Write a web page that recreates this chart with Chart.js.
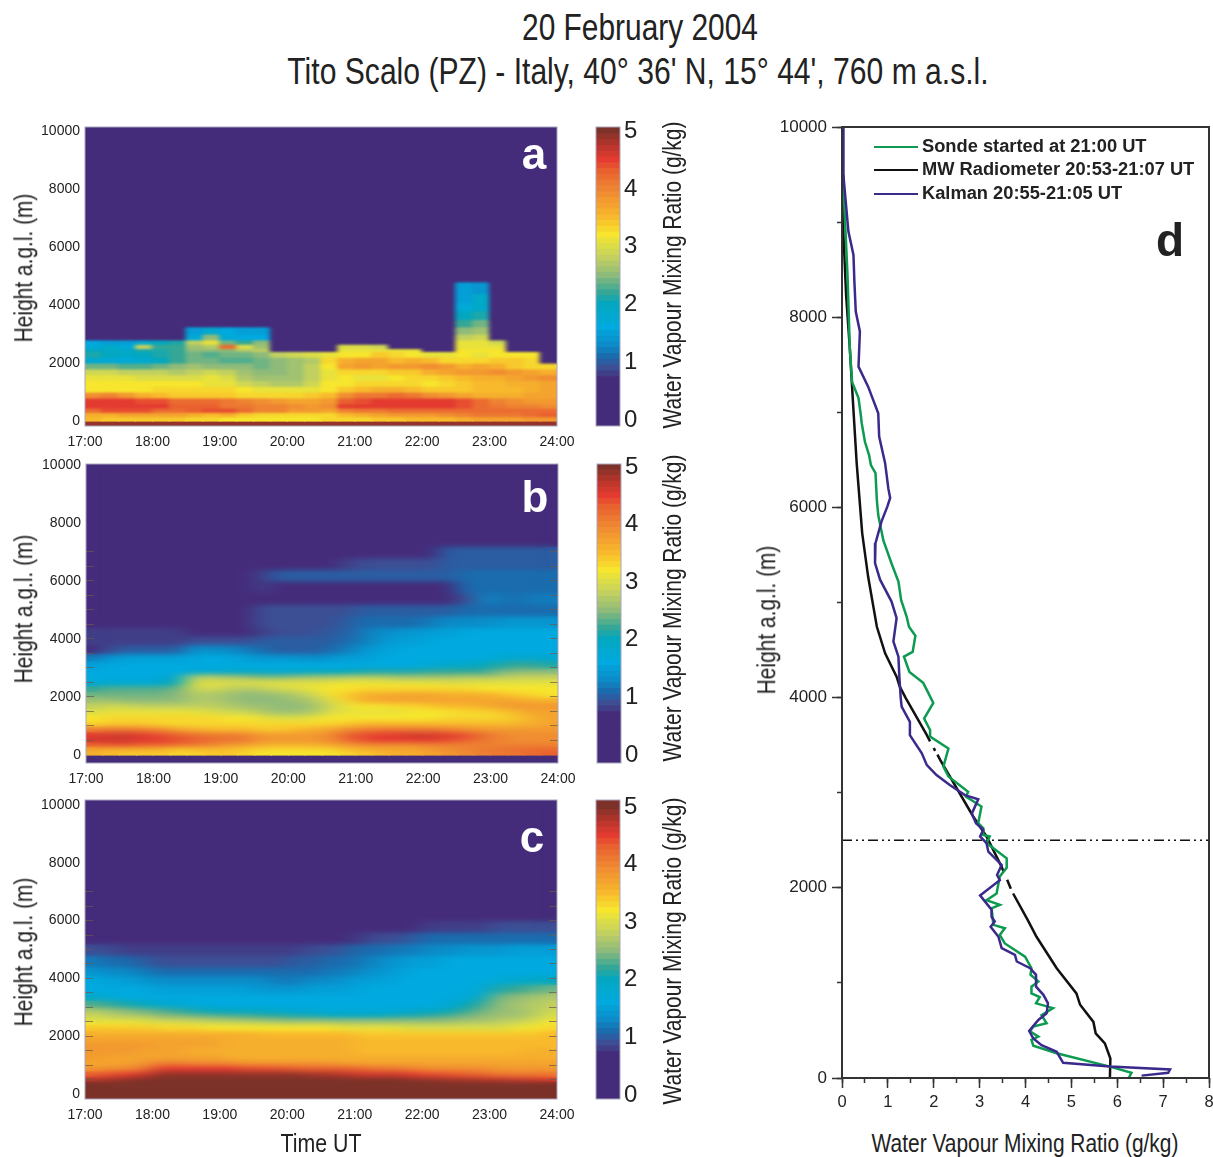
<!DOCTYPE html>
<html>
<head>
<meta charset="utf-8">
<title>Water vapour mixing ratio, 20 February 2004</title>
<script src="https://cdn.jsdelivr.net/npm/chart.js@4"></script>
<style>
html, body { margin: 0; padding: 0; background: #fff; overflow: hidden; }
#page { position: relative; width: 1213px; height: 1157px; overflow: hidden; font-family: 'Liberation Sans', Arial, sans-serif; color: #222; }
canvas { position: absolute; display: block; }
.txt { position: absolute; white-space: nowrap; line-height: 1; }
.letter { font-weight: bold; }
#legend { position: absolute; left: 874px; top: 134px; font: bold 18.3px 'Liberation Sans', Arial, sans-serif; color: #222; }
#legend div { height: 23.3px; line-height: 23px; white-space: nowrap; }
#legend span { display: inline-block; width: 44px; height: 0; border-top: 2px solid; vertical-align: middle; margin-right: 4px; }
</style>
</head>
<body>
<div id="page"><div id="legend"></div></div>
<script>
// time cell centres (hours UT), 15 minute cells
const timeCols = [17.125,17.375,17.625,17.875,18.125,18.375,18.625,18.875,19.125,19.375,19.625,19.875,20.125,20.375,20.625,20.875,21.125,21.375,21.625,21.875,22.125,22.375,22.625,22.875,23.125,23.375,23.625,23.875];
// row limits in metres, top to bottom
const heightEdges = [10400,7200,6800,6400,6000,5600,5200,4800,4400,4100,3800,3500,3250,3000,2800,2650,2500,2400,2200,2000,1800,1600,1400,1200,1000,800,600,450,300,150,0,-300];
const heightTicks = [0,2000,4000,6000,8000,10000];
const insideTicks = [500,1000,1500,2000,2500,3000,3500,4000,4500,5000,5500,6000,6500,7000];
const scaleTicks = [0,1,2,3,4,5];
const barLevels = [-0.1,0,0.1,0.2,0.3,0.4,0.5,0.6,0.7,0.8,0.9,1,1.1,1.2,1.3,1.4,1.5,1.6,1.7,1.8,1.9,2,2.1,2.2,2.3,2.4,2.5,2.6,2.7,2.8,2.9,3,3.1,3.2,3.3,3.4,3.5,3.6,3.7,3.8,3.9,4,4.1,4.2,4.3,4.4,4.5,4.6,4.7,4.8,4.9,5,5.1];

// mixing ratio x10, one line per height row, top row first
const panelA = [
[3,3,3,3,3,3, 3,3,3,3,3, 3,3,3,3, 3,3,3,3,3,3,3, 3,3,3,3,3, 3],
[3,3,3,3,3,3, 3,3,3,3,3, 3,3,3,3, 3,3,3,3,3,3,3, 3,3,3,3,3, 3],
[3,3,3,3,3,3, 3,3,3,3,3, 3,3,3,3, 3,3,3,3,3,3,3, 3,3,3,3,3, 3],
[3,3,3,3,3,3, 3,3,3,3,3, 3,3,3,3, 3,3,3,3,3,3,3, 3,3,3,3,3, 3],
[3,3,3,3,3,3, 3,3,3,3,3, 3,3,3,3, 3,3,3,3,3,3,3, 3,3,3,3,3, 3],
[3,3,3,3,3,3, 3,3,3,3,3, 3,3,3,3, 3,3,3,3,3,3,3, 3,3,3,3,3, 3],
[3,3,3,3,3,3, 3,3,3,3,3, 3,3,3,3, 3,3,3,3,3,3,3, 3,3,3,3,3, 3],
[3,3,3,3,3,3, 3,3,3,3,3, 3,3,3,3, 3,3,3,3,3,3,3, 15,14,3,3,3, 3],
[3,3,3,3,3,3, 3,3,3,3,3, 3,3,3,3, 3,3,3,3,3,3,3, 15,19,3,3,3, 3],
[3,3,3,3,3,3, 3,3,3,3,3, 3,3,3,3, 3,3,3,3,3,3,3, 17,19,3,3,3, 3],
[3,3,3,3,3,3, 3,3,3,3,3, 3,3,3,3, 3,3,3,3,3,3,3, 20,21,3,3,3, 3],
[3,3,3,3,3,3, 3,3,3,3,3, 3,3,3,3, 3,3,3,3,3,3,3, 22,24,3,3,3, 3],
[3,3,3,3,3,3, 15,18,16,15,15, 3,3,3,3, 3,3,3,3,3,3,3, 25,26,3,3,3, 3],
[3,3,3,3,3,3, 17,25,17,16,16, 3,3,3,3, 3,3,3,3,3,3,3, 28,29,3,3,3, 3],
[16,15,15,18,20,21, 28,31,24,22,25, 3,3,3,3, 3,3,3,3,3,3,3, 31,31,29,3,3, 3],
[17,19,17,28,22,22, 26,27,42,30,26, 3,3,3,3, 30,30,29,3,3,3,3, 31,31,31,3,3, 3],
[20,19,19,21,21,22, 25,25,25,27,28, 3,3,3,3, 31,31,31,31,31,3,3, 32,32,32,3,3, 3],
[21,20,19,20,21,22, 24,23,24,24,25, 28,29,30,31, 32,32,34,33,32,31,31, 32,31,32,32,32, 3],
[18,17,17,18,20,22, 24,24,23,23,24, 25,26,27,33, 36,37,37,35,36,35,33, 33,33,34,34,33, 3],
[24,24,23,23,24,25, 26,25,25,25,24, 25,26,28,32, 37,38,37,38,38,39,38, 36,37,36,34,33, 33],
[29,29,28,28,28,27, 28,29,28,26,25, 25,26,28,31, 33,33,33,34,34,36,37, 38,38,39,38,37, 36],
[31,31,31,30,30,30, 30,31,30,27,26, 26,26,28,31, 32,31,31,32,33,33,34, 35,36,36,37,38, 39],
[32,32,32,32,32,32, 32,31,31,29,28, 27,27,29,32, 32,33,33,33,33,32,33, 34,35,35,36,36, 37],
[32,32,32,32,33,33, 33,33,33,32,31, 31,31,31,32, 34,35,36,36,35,34,34, 34,35,35,35,36, 37],
[39,40,38,36,35,34, 34,34,34,33,33, 33,33,34,35, 39,41,41,42,41,39,38, 37,36,36,36,37, 37],
[45,45,45,44,44,42, 42,42,41,40,39, 38,37,37,38, 43,44,45,45,45,45,45, 44,42,40,39,38, 38],
[45,45,45,45,45,43, 43,43,41,41,40, 40,39,38,39, 45,45,45,45,45,45,45, 44,42,41,40,40, 39],
[42,44,44,44,42,42, 43,44,44,42,40, 40,38,38,37, 40,41,41,42,42,42,42, 42,42,42,42,42, 42],
[36,36,37,37,37,37, 36,35,36,34,33, 33,33,33,33, 35,36,37,38,38,38,39, 40,41,41,41,42, 43],
[35,34,34,34,34,34, 33,33,32,32,32, 32,32,32,33, 33,33,34,34,35,35,35, 36,37,37,37,38, 38],
[49,49,49,49,49,49, 49,49,49,49,49, 49,49,49,49, 49,49,49,49,49,49,49, 49,49,49,49,49, 49]
];

const panelB = [
[3,3,3,3,3,3, 3,3,3,3, 3,3,3,3,3, 3,3,3,3,3,3, 3,3,3,3,3,3,3],
[3,3,3,3,3,3, 3,3,3,3, 3,3,3,3,3, 3,3,3,3,3,3, 10,10,10,10,10,10,10],
[3,3,3,3,3,3, 3,3,3,3, 3,3,3,3,3, 8,9,9,9,9,9, 10,10,10,10,10,10,10],
[3,3,3,3,3,3, 3,3,3,3, 8,10,10,10,10, 10,10,10,10,10,10, 10,11,11,11,11,11,11],
[3,3,3,3,3,3, 3,3,3,3, 8,7,7,7,7, 7,7,7,7,7,7, 7,11,11,11,11,11,11],
[3,3,3,3,3,3, 3,3,3,3, 3,3,3,3,3, 3,3,3,3,3,3, 3,9,12,12,11,12,12],
[3,3,3,3,3,3, 3,3,3,3, 9,9,9,9,9, 9,10,10,10,10,10, 10,11,11,11,11,11,11],
[7,7,7,7,7,7, 3,3,3,3, 9,9,9,9,9, 10,11,11,11,11,12, 13,13,13,14,14,14,14],
[8,8,8,8,8,8, 5,5,5,5, 8,9,9,9,10, 10,12,13,14,14,15, 15,16,16,16,16,16,16],
[8,8,8,8,8,8, 9,9,9,9, 10,10,10,10,10, 11,12,14,15,15,16, 16,16,16,16,16,16,16],
[7,9,10,10,10,10, 14,13,13,12, 11,10,10,10,11, 12,14,15,16,16,16, 16,16,16,16,16,16,16],
[12,14,15,15,15,15, 16,16,16,15, 14,14,14,13,14, 15,15,16,16,16,16, 16,16,16,17,18,18,18],
[15,16,16,16,16,16, 16,16,16,16, 16,16,16,16,16, 16,16,16,16,16,17, 18,19,20,21,22,22,21],
[16,16,16,16,16,16, 17,18,18,19, 18,18,18,19,20, 20,21,21,21,21,22, 22,22,22,24,25,25,25],
[16,16,16,16,16,19, 28,27,26,25, 24,24,25,26,26, 27,27,27,26,26,26, 26,27,26,27,28,28,28],
[17,17,17,17,18,20, 29,29,29,29, 29,29,29,29,29, 30,30,30,29,29,29, 29,29,30,30,30,30,30],
[18,19,18,18,19,21, 31,31,30,30, 30,31,31,31,32, 32,32,32,32,32,32, 31,31,31,31,31,31,31],
[22,23,23,23,23,24, 29,29,28,27, 28,29,30,31,32, 32,33,33,33,33,33, 33,33,32,32,32,32,32],
[24,24,24,24,24,25, 27,27,26,25, 25,26,27,29,32, 34,36,36,37,37,37, 36,36,36,35,34,33,32],
[26,26,25,25,25,25, 27,27,26,25, 25,25,26,27,30, 33,36,37,37,37,37, 37,37,37,37,37,36,36],
[28,29,29,28,28,28, 28,28,27,26, 26,25,25,26,29, 31,32,32,33,33,34, 35,35,36,37,38,38,38],
[30,31,31,31,31,31, 31,30,29,29, 27,26,26,27,30, 31,31,31,31,32,32, 32,33,33,34,35,37,37],
[32,33,33,33,33,33, 33,33,32,32, 31,30,30,31,32, 32,32,32,32,32,32, 33,33,33,33,34,36,37],
[33,34,34,34,33,33, 33,33,33,33, 33,33,33,33,33, 34,35,35,35,35,35, 35,35,35,35,35,36,37],
[40,41,41,40,39,37, 36,35,35,35, 34,34,35,36,37, 39,40,41,41,41,41, 40,39,38,38,38,38,38],
[45,46,46,45,44,43, 42,41,41,40, 38,38,38,38,39, 43,44,45,45,46,46, 45,44,42,40,39,39,39],
[46,46,46,45,45,44, 43,42,41,41, 38,38,38,38,39, 42,44,45,45,45,45, 44,43,41,40,39,39,39],
[43,44,44,43,43,42, 41,40,38,38, 36,36,36,36,37, 38,39,39,39,39,40, 40,40,40,40,40,40,40],
[37,36,36,36,36,34, 35,35,35,34, 33,33,33,33,33, 35,36,37,37,37,38, 39,40,41,41,42,42,42],
[36,35,34,34,34,33, 33,34,34,33, 32,32,32,32,32, 33,34,35,36,36,37, 38,39,40,41,41,42,43],
[3,3,3,3,3,3, 3,3,3,3, 3,3,3,3,3, 3,3,3,3,3,3, 3,3,3,3,3,3,3]
];

const panelC = [
[3,3,3,3, 3,3,3,3,3,3,3,3, 3,3,3,3, 3,3,3,3, 3,3,3,3, 3,3,3,3],
[3,3,3,3, 3,3,3,3,3,3,3,3, 3,3,3,3, 3,3,3,3, 3,3,3,3, 3,3,3,3],
[3,3,3,3, 3,3,3,3,3,3,3,3, 3,3,3,3, 3,3,3,3, 3,3,3,3, 3,3,3,3],
[3,3,3,3, 3,3,3,3,3,3,3,3, 3,3,3,3, 3,3,3,3, 3,3,3,3, 3,3,3,3],
[3,3,3,3, 3,3,3,3,3,3,3,3, 3,3,3,3, 3,4,5,7, 8,8,8,8, 9,9,9,9],
[7,6,5,5, 5,5,5,5,5,5,5,5, 6,6,7,7, 8,9,9,10, 11,11,11,11, 11,11,11,11],
[9,9,8,8, 8,8,8,8,8,8,8,8, 8,9,9,10, 11,11,12,12, 13,13,14,14, 14,15,15,15],
[12,11,11,10, 9,9,9,9,9,9,9,9, 10,10,11,11, 12,13,14,15, 15,16,16,16, 16,16,16,16],
[14,13,13,12, 11,11,11,11,11,11,11,11, 11,11,12,12, 13,14,15,16, 16,16,16,16, 16,16,16,16],
[16,15,15,14, 13,13,13,13,13,13,13,12, 12,13,13,14, 15,15,16,16, 16,16,16,16, 17,18,19,20],
[16,16,16,16, 15,15,15,15,15,15,14,14, 14,15,15,15, 16,16,16,16, 16,16,16,17, 21,22,23,24],
[19,17,16,16, 16,16,16,16,16,16,16,16, 16,16,16,16, 16,16,16,16, 16,16,17,19, 24,25,26,27],
[23,22,21,20, 18,17,17,16,16,16,16,16, 16,16,16,16, 16,16,16,16, 16,17,20,22, 25,26,27,28],
[27,26,25,24, 23,22,21,20,20,19,19,18, 18,17,17,17, 17,17,17,18, 19,20,22,24, 25,26,27,29],
[29,28,27,27, 25,25,24,24,23,23,22,22, 21,21,20,20, 20,20,21,21, 22,23,24,25, 26,26,27,30],
[30,30,30,30, 28,28,28,27,27,26,26,25, 25,25,25,25, 25,25,25,25, 25,25,26,26, 27,28,29,31],
[32,32,32,31, 31,31,30,30,29,29,29,28, 28,28,28,27, 27,27,27,27, 27,27,28,28, 28,29,30,32],
[34,34,34,34, 33,33,33,32,32,32,32,32, 32,32,32,31, 31,31,31,30, 30,30,30,30, 30,31,32,33],
[36,36,36,36, 36,36,36,36,36,36,35,35, 35,35,35,35, 34,34,34,34, 34,34,34,34, 34,34,34,35],
[37,37,37,37, 37,37,37,37,36,36,36,36, 36,36,36,36, 35,35,35,35, 35,35,35,35, 35,35,35,35],
[38,38,38,38, 37,37,37,37,36,36,36,36, 36,36,36,36, 35,35,35,35, 35,35,35,35, 35,35,35,35],
[38,38,38,37, 37,37,36,36,36,36,36,36, 36,36,36,36, 35,35,35,35, 35,35,35,35, 35,35,36,36],
[38,37,37,37, 37,37,37,37,36,36,36,36, 36,36,36,36, 36,36,36,36, 36,36,36,36, 36,36,36,36],
[37,37,37,38, 40,40,39,39,39,38,38,38, 38,38,38,37, 37,37,37,37, 37,37,37,37, 37,37,37,37],
[38,39,39,41, 45,45,45,45,45,44,44,44, 43,43,43,43, 42,41,41,40, 39,39,39,39, 38,38,38,38],
[43,44,45,46, 49,49,49,49,49,49,49,49, 49,48,48,47, 46,46,46,45, 44,44,43,43, 41,41,41,41],
[47,48,49,50, 50,50,50,50,50,50,50,50, 50,50,50,50, 50,50,50,49, 49,48,48,47, 47,46,46,45],
[50,50,50,50, 50,50,50,50,50,50,50,50, 50,50,50,50, 50,50,50,50, 50,50,50,50, 50,50,50,50],
[50,50,50,50, 50,50,50,50,50,50,50,50, 50,50,50,50, 50,50,50,50, 50,50,50,50, 50,50,50,50],
[50,50,50,50, 50,50,50,50,50,50,50,50, 50,50,50,50, 50,50,50,50, 50,50,50,50, 50,50,50,50],
[50,50,50,50, 50,50,50,50,50,50,50,50, 50,50,50,50, 50,50,50,50, 50,50,50,50, 50,50,50,50]
];

// profiles of panel d, null makes a break in the line
const sondeMix = [0.03,0.05,0.12,0.17,0.22,0.36,0.41,0.43,0.50,0.59,0.63,0.73,0.76,0.79,0.90,1.08,1.23,1.29,1.41,1.46,1.60,1.54,1.35,1.47,1.77,1.87,1.99,1.79,1.92,1.92,2.32,2.21,2.32,2.75,2.70,3.04,2.97,3.08,3.08,3.22,3.15,3.59,3.59,3.44,3.37,3.15,3.44,3.26,3.30,3.55,3.44,3.55,3.99,4.13,4.11,4.28,4.13,4.13,4.31,4.23,4.60,4.35,4.46,4.17,4.10,4.28,4.13,4.17,4.68,5.84,6.31,6.25];
const sondeHeight = [9500,9180,8445,7675,7320,7150,6970,6885,6690,6550,6445,6360,6075,5920,5655,5410,5220,5025,4850,4745,4650,4480,4430,4270,4155,4060,3945,3780,3660,3590,3465,3275,3170,3010,2960,2855,2680,2625,2555,2540,2470,2310,2210,2120,1940,1870,1820,1785,1610,1575,1505,1415,1275,1155,1085,1015,960,890,850,785,735,660,575,540,490,435,400,340,260,120,55,0];
const radiometerMix = [0,0.02,0.09,0.17,0.25,0.32,0.44,0.57,0.76,0.94,1.19,1.26,1.39,1.85,1.92,null,2.00,2.03,null,2.08,2.14,2.86,3.15,3.48,3.52,null,3.60,3.68,null,3.73,4.05,4.24,4.68,5.11,5.19,5.48,5.53,5.73,5.85,5.84];
const radiometerHeight = [10000,9000,8230,7675,7020,6465,5730,5270,4745,4465,4220,4115,3995,3605,3540,null,3470,3440,null,3400,3345,2750,2540,2220,2170,null,2085,1990,null,1940,1660,1485,1155,890,770,590,470,365,205,0];
const kalmanMix = [0.03,0.03,0.14,0.25,0.27,0.30,0.39,0.36,0.57,0.79,0.81,0.94,1.01,1.05,0.99,0.86,0.73,0.72,0.83,1.08,1.19,1.12,1.23,1.25,1.28,1.30,1.48,1.48,1.74,1.85,2.06,2.35,2.68,2.97,2.83,2.92,3.08,3.01,3.15,3.19,3.48,3.38,3.44,3.01,3.26,3.26,3.33,3.24,3.41,3.48,3.77,3.81,4.10,4.23,4.23,4.39,4.49,4.46,4.28,4.08,4.17,4.35,4.68,4.82,5.84,7.15,7.11,6.53];
const kalmanHeight = [9990,9495,8900,8655,8375,8060,7850,7480,7270,6990,6745,6465,6200,6100,6010,5850,5625,5415,5240,5010,4835,4590,4430,4220,3995,3905,3745,3605,3415,3290,3185,3080,2975,2930,2780,2680,2610,2540,2470,2380,2240,2135,2080,1920,1770,1695,1645,1590,1485,1365,1295,1225,1155,1085,960,875,785,680,610,495,415,345,275,160,120,90,55,25];
const cutMix = [0,8];
const cutHeight = [2500,2500];

Chart.defaults.font.family = "'Liberation Sans', Arial, sans-serif";
Chart.defaults.color = '#222';
Chart.defaults.animation = false;

const colorStops = [
  [0,'#452c7b'],[0.7,'#452c7b'],[0.9,'#3c4f95'],[1.1,'#1a6cae'],[1.3,'#0b8cc8'],[1.6,'#00a9df'],
  [2,'#03a7bf'],[2.2,'#34a796'],[2.5,'#8fbb7a'],[2.8,'#c2d060'],[3,'#dbdd48'],[3.2,'#f7e62d'],
  [3.5,'#f8ba2c'],[4,'#ee8332'],[4.3,'#e9612f'],[4.5,'#e43b30'],[4.75,'#b5352b'],[5,'#7c3228']
];
function hexRgb(h) {
  return [parseInt(h.substr(1,2),16), parseInt(h.substr(3,2),16), parseInt(h.substr(5,2),16)];
}
function valueColor(v) {
  if (v <= colorStops[0][0]) return colorStops[0][1];
  for (let i = 1; i < colorStops.length; i++) {
    if (v <= colorStops[i][0]) {
      const a = colorStops[i-1], b = colorStops[i];
      const f = (v - a[0]) / (b[0] - a[0]);
      const ca = hexRgb(a[1]), cb = hexRgb(b[1]);
      return 'rgb(' + ca.map((c,k) => Math.round(c + (cb[k]-c)*f)).join(',') + ')';
    }
  }
  return colorStops[colorStops.length-1][1];
}

const page = document.getElementById('page');
function addCanvas(left, top, w, h) {
  const c = document.createElement('canvas');
  c.width = w; c.height = h;
  c.style.left = left + 'px'; c.style.top = top + 'px';
  c.style.width = w + 'px'; c.style.height = h + 'px';
  page.appendChild(c);
  return c;
}
// narrow text: no condensed font is installed, so squeeze along the baseline
function addText(text, x, y, size, rot, squeeze, cls, color) {
  const d = document.createElement('div');
  d.className = 'txt' + (cls ? ' ' + cls : '');
  d.textContent = text;
  d.style.left = x + 'px'; d.style.top = y + 'px'; d.style.fontSize = size + 'px';
  d.style.transform = 'translate(-50%,-50%) rotate(' + rot + 'deg) scaleX(' + squeeze + ')';
  if (color) d.style.color = color;
  page.appendChild(d);
}

// smears the cells mostly along time so the field looks continuous, like the gridded original
const smooth = {
  id: 'smooth',
  afterDatasetsDraw(chart, args, opts) {
    if (!opts.radius) return;
    const a = chart.chartArea;
    const h = Math.round(chart.scales.y.getPixelForValue(0) - a.top);
    const w = a.right - a.left;
    const sw = Math.round(w / opts.stretch);
    const small = document.createElement('canvas');
    small.width = sw; small.height = h;
    small.getContext('2d').drawImage(chart.canvas, a.left, a.top, w, h, 0, 0, sw, h);
    const soft = document.createElement('canvas');
    soft.width = sw; soft.height = h;
    const sctx = soft.getContext('2d');
    sctx.filter = 'blur(' + opts.radius + 'px)';
    sctx.drawImage(small, 0, 0);
    const ctx = chart.ctx;
    ctx.save();
    ctx.beginPath(); ctx.rect(a.left, a.top, w, h); ctx.clip();
    ctx.drawImage(soft, a.left, a.top, w, h);
    ctx.restore();
  }
};
const frame = {
  id: 'frame',
  afterDraw(chart, args, opts) {
    const a = chart.chartArea, ctx = chart.ctx;
    ctx.save();
    ctx.strokeStyle = opts.color; ctx.lineWidth = opts.width;
    ctx.strokeRect(a.left, a.top, a.right - a.left, a.bottom - a.top);
    ctx.restore();
  }
};

// small marks inside the plot edge
function insideAxis(p, hour, len) {
  return {axis: 'y', type: 'linear', position: {x: hour}, min: p.min, max: p.max, border: {display: false},
    grid: {drawOnChartArea: false, tickLength: len, color: 'rgba(110,90,70,0.7)', z: 1},
    ticks: {display: false},
    afterBuildTicks: s => { s.ticks = insideTicks.map(v => ({value: v})); }};
}

function heatChart(rows, p) {
  const canvas = addCanvas(0, p.top - 15, 600, 344);
  const datasets = rows.map((row, i) => ({
    data: timeCols.map(t => ({x: t, y: [heightEdges[i+1], heightEdges[i]]})),
    backgroundColor: row.map(v => valueColor(v / 10)),
    barPercentage: 1, categoryPercentage: 1, grouped: false, borderWidth: 0, inflateAmount: 0.6
  }));
  const scales = {
    x: {type: 'linear', offset: false, min: 17, max: 24, grid: {display: false, drawTicks: false}, border: {display: false},
      ticks: {stepSize: 1, padding: 8, maxRotation: 0, font: {size: 14}, callback: v => v + ':00'},
      afterFit: s => { s.height = 30; }},
    y: {type: 'linear', min: p.min, max: p.max, grid: {display: false, drawTicks: false}, border: {display: false},
      ticks: {padding: 5, font: {size: 14}, callback: v => String(v)},
      afterBuildTicks: s => { s.ticks = heightTicks.map(v => ({value: v})); },
      afterFit: s => { s.width = p.left; }}
  };
  if (p.marks) {
    scales.marksLeft = insideAxis(p, 17, -8);
    scales.marksRight = insideAxis(p, 24, 8);
  }
  new Chart(canvas, {
    type: 'bar',
    data: {datasets},
    plugins: [smooth, frame],
    options: {
      responsive: false,
      layout: {padding: {top: 15, right: 600 - p.right}},
      plugins: {legend: {display: false}, tooltip: {enabled: false},
        smooth: {radius: p.blur, stretch: p.stretch}, frame: {color: '#a9a6bd', width: 1}},
      scales
    }
  });
}

function colourBar(p) {
  const canvas = addCanvas(p.barLeft - 11, p.top - 30, 70, 359);
  const datasets = barLevels.map(v => ({
    data: [[v - 0.05, v + 0.05]],
    backgroundColor: valueColor(v),
    barPercentage: 1, categoryPercentage: 1, grouped: false, borderWidth: 0, inflateAmount: 0.6
  }));
  new Chart(canvas, {
    type: 'bar',
    data: {labels: [''], datasets},
    plugins: [frame],
    options: {
      responsive: false,
      layout: {padding: {top: 30, bottom: 30, left: 11}},
      plugins: {legend: {display: false}, tooltip: {enabled: false}, frame: {color: '#a9a6bd', width: 1}},
      scales: {
        x: {display: false, offset: true},
        y: {position: 'right', min: p.barMin, max: p.barMax, grid: {display: false, drawTicks: false}, border: {display: false},
          ticks: {padding: 4, font: {size: 24}},
          afterBuildTicks: s => { s.ticks = scaleTicks.map(v => ({value: v})); },
          afterFit: s => { s.width = 35; }}
      }
    }
  });
}

const panels = [
  {rows: panelA, left: 85, right: 557, top: 127, min: -172, max: 10138, blur: 1.3, stretch: 2, marks: false, barLeft: 596, barMin: -0.1, barMax: 5.07, letter: 'a', lx: 534, ly: 154, hy: 268, wy: 275, wx: 673},
  {rows: panelB, left: 86, right: 558, top: 464, min: -276, max: 10034, blur: 2.5, stretch: 4, marks: true, barLeft: 597, barMin: -0.14, barMax: 5.05, letter: 'b', lx: 535, ly: 497, hy: 609, wy: 608, wx: 673},
  {rows: panelC, left: 85, right: 557, top: 800, min: -172, max: 10170, blur: 2.5, stretch: 4, marks: true, barLeft: 596, barMin: -0.07, barMax: 5.12, letter: 'c', lx: 532, ly: 837, hy: 952, wy: 951, wx: 673}
];
panels.forEach(p => {
  heatChart(p.rows, p);
  colourBar(p);
  addText(p.letter, p.lx, p.ly, 44, 0, 1, 'letter', '#fff');
  addText('Height a.g.l. (m)', 24, p.hy, 25.5, -90, 0.82);
  addText('Water Vapour Mixing Ratio (g/kg)', p.wx, p.wy, 25.5, -90, 0.82);
});
addText('Time UT', 321, 1143, 26, 0, 0.82);

addText('20 February 2004', 640, 28, 36, 0, 0.83);
addText("Tito Scalo (PZ) - Italy, 40° 36' N, 15° 44', 760 m a.s.l.", 638, 72, 36, 0, 0.836);

function points(xs, ys) {
  return xs.map((x, i) => ({x: x, y: ys[i]}));
}
const profileSets = [
  {label: 'Sonde started at 21:00 UT', data: points(sondeMix, sondeHeight), borderColor: '#0c9b50', order: 2},
  {label: 'MW Radiometer 20:53-21:07 UT', data: points(radiometerMix, radiometerHeight), borderColor: '#111111', order: 3},
  {label: 'Kalman 20:55-21:05 UT', data: points(kalmanMix, kalmanHeight), borderColor: '#3b2a8c', order: 1}
];
const cutSet = {data: points(cutMix, cutHeight), borderColor: '#111111', borderWidth: 1.6, borderDash: [10,4,2,4,2,4], order: 4};
const lineSets = profileSets.map(s => Object.assign({borderWidth: 2.5}, s)).concat([cutSet]);

new Chart(addCanvas(740, 100, 490, 1018), {
  type: 'scatter',
  data: {datasets: lineSets.map(s => Object.assign({showLine: true, pointRadius: 0, tension: 0, fill: false}, s))},
  plugins: [frame],
  options: {
    responsive: false,
    layout: {padding: {top: 27, right: 21}},
    plugins: {legend: {display: false}, tooltip: {enabled: false}, frame: {color: '#333', width: 2}},
    scales: {
      x: {type: 'linear', min: 0, max: 8, border: {display: false},
        grid: {drawOnChartArea: false, tickLength: 10, color: '#333', tickWidth: 1.5},
        ticks: {stepSize: 1, padding: 5, maxRotation: 0, font: {size: 16.5}},
        afterFit: s => { s.height = 40; }},
      y: {type: 'linear', min: 0, max: 10000, border: {display: false},
        grid: {drawOnChartArea: false, tickLength: 10, color: '#333', tickWidth: 1.5},
        ticks: {stepSize: 2000, padding: 5, font: {size: 17}, callback: v => String(v)},
        afterFit: s => { s.width = 102; }},
      xMinor: {axis: 'x', type: 'linear', position: {y: 0}, min: 0, max: 8, border: {display: false},
        grid: {drawOnChartArea: false, tickLength: 5, color: '#333', tickWidth: 1.5},
        ticks: {stepSize: 0.5, display: false}},
      yMinor: {axis: 'y', type: 'linear', position: {x: 0}, min: 0, max: 10000, border: {display: false},
        grid: {drawOnChartArea: false, tickLength: 5, color: '#333', tickWidth: 1.5},
        ticks: {stepSize: 1000, display: false}}
    }
  }
});

addText('Height a.g.l. (m)', 767, 620, 25.5, -90, 0.82);
addText('Water Vapour Mixing Ratio (g/kg)', 1025, 1144, 25.5, 0, 0.82);
addText('d', 1170, 240, 46, 0, 1, 'letter', '#222');

// legend built from the datasets
const legend = document.getElementById('legend');
profileSets.forEach(s => {
  const row = document.createElement('div');
  const line = document.createElement('span');
  line.style.borderTopColor = s.borderColor;
  row.appendChild(line);
  row.appendChild(document.createTextNode(s.label));
  legend.appendChild(row);
});
page.appendChild(legend);
</script>
</body>
</html>
